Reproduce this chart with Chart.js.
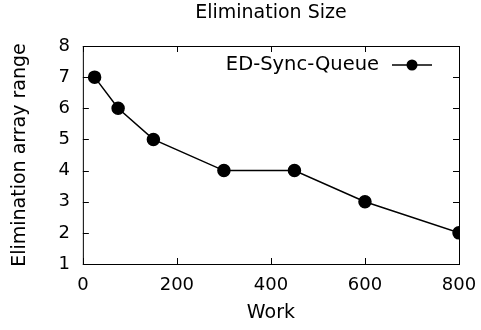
<!DOCTYPE html>
<html>
<head>
<meta charset="utf-8">
<script src="https://cdn.jsdelivr.net/npm/chart.js@4/dist/chart.umd.min.js"></script>
<style>
  html, body { margin: 0; padding: 0; background: #fff; }
  #wrap { width: 481px; height: 330px; }
</style>
</head>
<body>
<div id="wrap"><canvas id="elimChart"></canvas></div>
<script>
const work = [25, 75, 150, 300, 450, 600, 800];
const range = [7, 6, 5, 4, 4, 3, 2];
const seriesName = "ED-Sync-Queue";

const FONT = "'DejaVu Sans', 'Liberation Sans', Arial, sans-serif";

// gnuplot-like frame with inward ticks on all four sides, plus the inset key
const framePlugin = {
  id: "frame",
  afterDatasetsDraw(chart) {
    const { ctx, chartArea: a, scales } = chart;
    const len = 6;
    ctx.save();
    ctx.strokeStyle = "#000";
    ctx.lineWidth = 1;
    ctx.strokeRect(a.left + 0.5, a.top + 0.5, a.right - a.left, a.bottom - a.top);
    ctx.beginPath();
    scales.x.ticks.forEach(t => {
      const px = Math.round(scales.x.getPixelForValue(t.value)) + 0.5;
      ctx.moveTo(px, a.bottom); ctx.lineTo(px, a.bottom - len);
      ctx.moveTo(px, a.top); ctx.lineTo(px, a.top + len);
    });
    scales.y.ticks.forEach(t => {
      const py = Math.round(scales.y.getPixelForValue(t.value)) + 0.5;
      ctx.moveTo(a.left, py); ctx.lineTo(a.left + len, py);
      ctx.moveTo(a.right, py); ctx.lineTo(a.right - len, py);
    });
    ctx.stroke();

    // key
    const ky = a.top + 19;
    const kx = a.right - 47;
    ctx.font = "19.5px " + FONT;
    ctx.fillStyle = "#000";
    ctx.textAlign = "right";
    ctx.textBaseline = "middle";
    ctx.fillText(seriesName, kx - 33, ky);
    ctx.lineWidth = 1.5;
    ctx.beginPath();
    ctx.moveTo(kx - 20, ky); ctx.lineTo(kx + 20, ky);
    ctx.stroke();
    ctx.beginPath();
    ctx.arc(kx, ky, 5.5, 0, Math.PI * 2);
    ctx.fill();
    ctx.restore();
  }
};

new Chart(document.getElementById("elimChart"), {
  type: "line",
  data: {
    datasets: [{
      label: seriesName,
      data: work.map((w, i) => ({ x: w, y: range[i] })),
      borderColor: "#000",
      backgroundColor: "#000",
      borderWidth: 1.5,
      pointRadius: 6,
      pointHoverRadius: 6,
      tension: 0
    }]
  },
  options: {
    responsive: true,
    maintainAspectRatio: false,
    animation: false,
    layout: { padding: { left: 8.6, right: 22, top: 2, bottom: 5.6 } },
    scales: {
      x: {
        type: "linear",
        min: 0, max: 800,
        grid: { display: false },
        border: { display: false },
        ticks: { stepSize: 200, color: "#000", font: { family: FONT, size: 18 }, padding: 3 },
        title: { display: true, text: "Work", color: "#000", font: { family: FONT, size: 19 }, padding: { top: 2, bottom: 0 } }
      },
      y: {
        min: 1, max: 8,
        grid: { display: false },
        border: { display: false },
        ticks: { stepSize: 1, color: "#000", font: { family: FONT, size: 18 }, padding: 5 },
        title: { display: true, text: "Elimination array range", color: "#000", font: { family: FONT, size: 19 }, padding: { top: 0, bottom: 22 } }
      }
    },
    plugins: {
      legend: { display: false },
      tooltip: { enabled: false },
      title: {
        display: true,
        text: "Elimination Size",
        fullSize: false,
        color: "#000",
        font: { family: FONT, size: 19, weight: "normal" },
        padding: { top: 0, bottom: 21.2 }
      }
    }
  },
  plugins: [framePlugin]
});
</script>
</body>
</html>
